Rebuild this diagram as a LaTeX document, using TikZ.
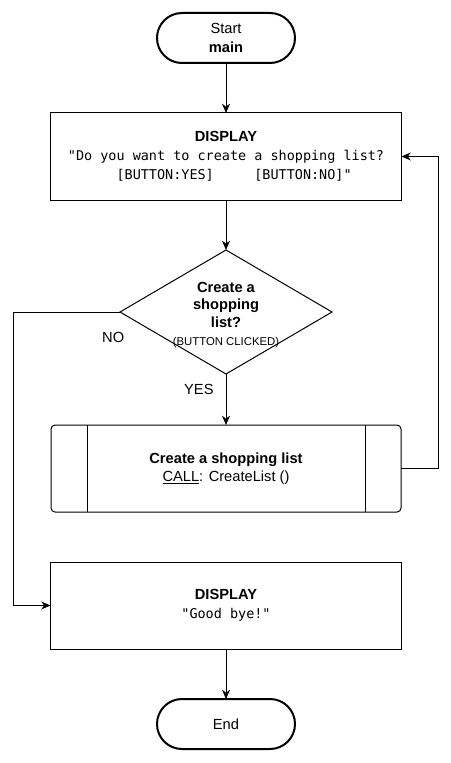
\documentclass[tikz,border=0pt]{standalone}
\usepackage{fontspec}
\setmainfont{Liberation Sans}
\setmonofont{DejaVu Sans Mono}
\usepackage{tikz}
\usetikzlibrary{positioning, shapes.geometric, arrows.meta}

\begin{document}
\begin{tikzpicture}[
        % Define styles for the components
        node distance=37.5pt,
        every node/.style={outer sep=0pt, font=\fontsize{11}{14.25}\selectfont},
        terminal/.style={rectangle, draw, line width=1.5pt, rounded corners=18.75pt, text centered, minimum height=37.5pt, minimum width=103.5pt, align=center},
        block/.style={rectangle, draw, line width=0.75pt, text centered, minimum height=65.25pt, minimum width=263.25pt, align=center},
        decision/.style={diamond, draw, line width=0.75pt, aspect=1.71, inner sep=0pt, minimum width=159pt, minimum height=93pt},
        subproc/.style={rectangle, draw, line width=0.75pt, rounded corners=3pt, minimum height=65.25pt, minimum width=262.5pt, align=center, font=\fontsize{11}{13.5}\selectfont},
        arrow/.style={line width=0.75pt, -{Stealth[length=7pt, width=6pt]}},
        line/.style={line width=0.75pt}
    ]
    \useasboundingbox (0,0) rectangle (337.5pt,-572.25pt);

    % Define nodes
    \node[terminal] (start) at (169.5pt,-28.5pt) {Start\\\textbf{main}};
    \node[block, below=of start] (ask) {\textbf{DISPLAY}\\
        {\fontsize{10.1}{14.25}\ttfamily "Do you want to create a shopping list?}\\
        {\fontsize{10.1}{14.25}\ttfamily \hphantom{xx}[BUTTON:YES]\hphantom{xxxxx}[BUTTON:NO]"}};
    \node[decision, below=of ask] (choice) {};
    \node[align=center, font=\fontsize{11}{13}\selectfont] (choicetext) at ([yshift=-2.5pt]choice)
        {\textbf{Create a}\\\textbf{shopping}\\\textbf{list?}\\[1pt]{\fontsize{8.5}{9}\selectfont(BUTTON CLICKED)}};
    \node[subproc, below=38.25pt of choice] (create) {\textbf{Create a shopping list}\\\underline{CALL}: CreateList ()};
    \node[block, below=of create] (bye) {\textbf{DISPLAY}\\{\fontsize{10.1}{14.25}\ttfamily "Good bye!"}};
    \node[terminal, below=of bye] (end) {End};

    % Subprocess side bars
    \draw[line] ([xshift=27pt]create.north west) -- ([xshift=27pt]create.south west);
    \draw[line] ([xshift=-27pt]create.north east) -- ([xshift=-27pt]create.south east);

    % Draw arrows
    \draw[arrow] (start) -- (ask);
    \draw[arrow] (ask) -- (choice);
    \draw[arrow] (choice) -- (create) node[pos=0.3, left=6pt] {YES};
    \draw[arrow] (create.east) -- ++(28pt,0) |- (ask.east);
    \draw[arrow] (choice.west) -| ([xshift=-27.75pt]bye.west) -- (bye.west);
    \node[below left=12pt and -6.5pt of choice.west] (no) {NO};
    \draw[arrow] (bye) -- (end);
\end{tikzpicture}
\end{document}
